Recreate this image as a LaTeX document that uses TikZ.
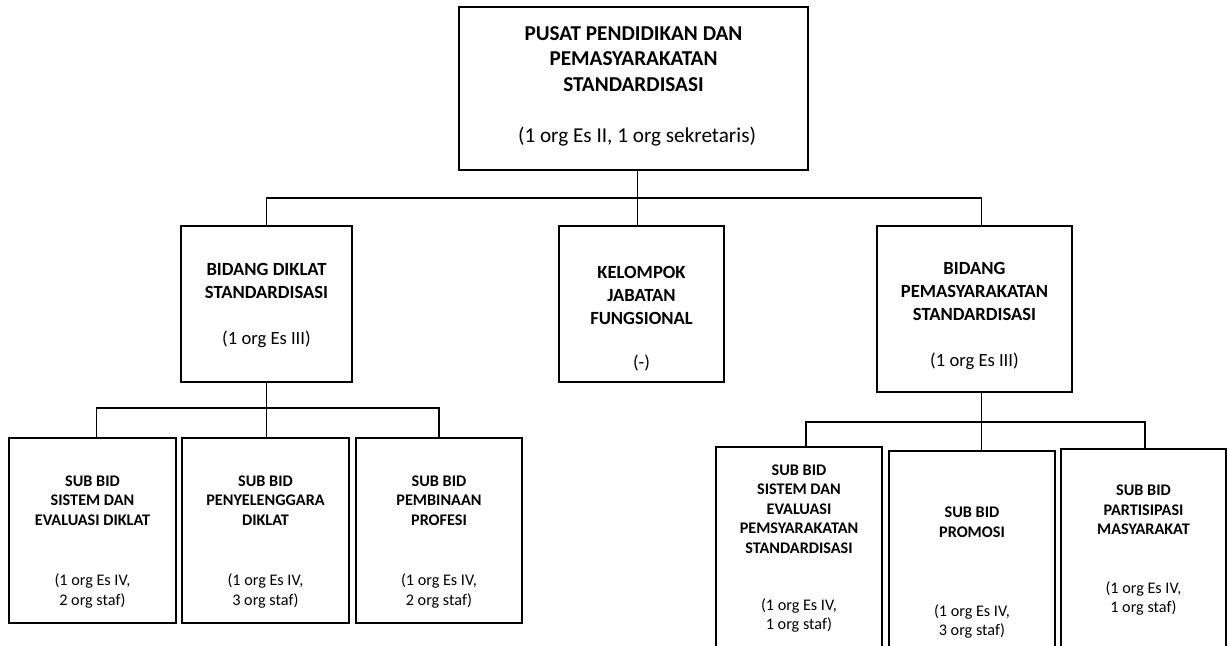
\documentclass[tikz,border=0pt]{standalone}
\usepackage{fontspec}
\setmainfont{Carlito}

\begin{document}
\begin{tikzpicture}[x=0.5pt,y=-0.5pt,line width=0.75pt]
    \tikzstyle{unit}=[draw,rectangle,line width=1pt,inner sep=0pt]
    \tikzstyle{top title}=[align=center,font=\bfseries\fontsize{10.6}{12.9}\selectfont]
    \tikzstyle{top note}=[align=center,font=\fontsize{10.6}{12.9}\selectfont]
    \tikzstyle{mid title}=[align=center,font=\bfseries\fontsize{9.3}{11.5}\selectfont]
    \tikzstyle{mid note}=[align=center,font=\fontsize{9.3}{11.5}\selectfont]
    \tikzstyle{sub title}=[align=center,font=\bfseries\fontsize{8.1}{9.8}\selectfont]
    \tikzstyle{sub note}=[align=center,font=\fontsize{8.1}{9.8}\selectfont]
    \useasboundingbox (0,0) rectangle (1227,645);
    \clip (0,0) rectangle (1227,645);
    % Draw the boxes of the units
    \node[unit,minimum width=174.5pt,minimum height=81.5pt] (pusat) at (633.5,88.5) {};
    \node[unit,minimum width=85.5pt,minimum height=78pt] (diklat) at (266.5,304) {};
    \node[unit,minimum width=82.5pt,minimum height=78pt] (kelompok) at (641.5,304) {};
    \node[unit,minimum width=97.5pt,minimum height=83pt] (pemas) at (974.5,309) {};
    \node[unit,minimum width=83.5pt,minimum height=92.5pt] (sbA) at (92.5,530.5) {};
    \node[unit,minimum width=83.5pt,minimum height=92.5pt] (sbB) at (265.5,530.5) {};
    \node[unit,minimum width=83pt,minimum height=92.5pt] (sbC) at (439,530.5) {};
    \node[unit,minimum width=83pt,minimum height=116.5pt] (sbD) at (799,563.5) {};
    \node[unit,minimum width=83pt,minimum height=114.5pt] (sbE) at (972,565.5) {};
    \node[unit,minimum width=82.5pt,minimum height=115.5pt] (sbF) at (1143.5,564.5) {};
    % Texts in the boxes
    \node[top title] (pusatT) at (633.5,59) {PUSAT PENDIDIKAN DAN\\PEMASYARAKATAN\\STANDARDISASI};
    \node[top note] (pusatN) at (637,137) {(1 org Es II, 1 org sekretaris)};
    \node[mid title] (diklatT) at (266.5,280.5) {BIDANG DIKLAT\\STANDARDISASI};
    \node[mid note] (diklatN) at (266.5,339) {(1 org Es III)};
    \node[mid title] (kelompokT) at (641.5,295) {KELOMPOK\\JABATAN\\FUNGSIONAL};
    \node[mid note] (kelompokN) at (641.5,363) {(-)};
    \node[mid title] (pemasT) at (974.5,291.5) {BIDANG\\PEMASYARAKATAN\\STANDARDISASI};
    \node[mid note] (pemasN) at (974.5,361) {(1 org Es III)};
    \node[sub title] (sbAT) at (92.5,500.5) {SUB BID\\SISTEM DAN\\EVALUASI DIKLAT};
    \node[sub note] (sbAN) at (92.5,591) {(1 org Es IV,\\2 org staf)};
    \node[sub title] (sbBT) at (265.5,500.5) {SUB BID\\PENYELENGGARA\\DIKLAT};
    \node[sub note] (sbBN) at (265.5,591) {(1 org Es IV,\\3 org staf)};
    \node[sub title] (sbCT) at (439,500.5) {SUB BID\\PEMBINAAN\\PROFESI};
    \node[sub note] (sbCN) at (439,591) {(1 org Es IV,\\2 org staf)};
    \node[sub title] (sbDT) at (799,509) {SUB BID\\SISTEM DAN\\EVALUASI\\PEMSYARAKATAN\\STANDARDISASI};
    \node[sub note] (sbDN) at (799,615.5) {(1 org Es IV,\\1 org staf)};
    \node[sub title] (sbET) at (972,522) {SUB BID\\PROMOSI};
    \node[sub note] (sbEN) at (972,621.5) {(1 org Es IV,\\3 org staf)};
    \node[sub title] (sbFT) at (1143.5,510) {SUB BID\\PARTISIPASI\\MASYARAKAT};
    \node[sub note] (sbFN) at (1143.5,598.5) {(1 org Es IV,\\1 org staf)};
    % Connectors
    \coordinate (j1) at (637.5,198);
    \coordinate (j2) at (267,408);
    \coordinate (j3) at (981.5,422);
    \draw (pusat.south -| j1) -- (kelompok.north -| j1);
    \draw (diklat.north) |- (j1) -| (pemas.north -| j3);
    \draw (diklat.south) -- (diklat.south |- sbB.north);
    \draw ([xshift=2pt]sbA.north) |- (j2) -| (sbC.north);
    \draw (pemas.south -| j3) -- (sbE.north -| j3);
    \draw ([xshift=3.5pt]sbD.north) |- (j3) -| ([xshift=0.75pt]sbF.north);
\end{tikzpicture}
\end{document}
